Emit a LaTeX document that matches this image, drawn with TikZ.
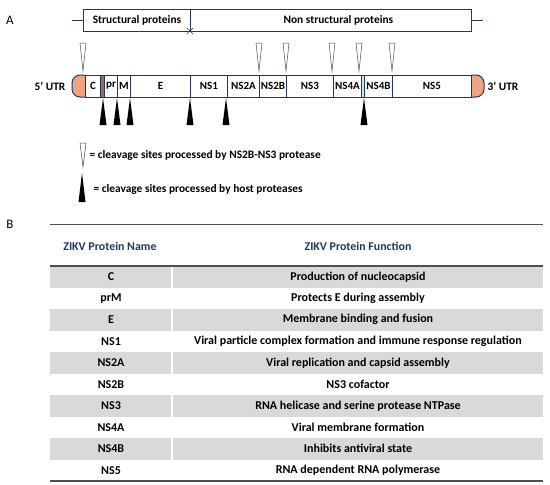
\documentclass[tikz,border=0pt]{standalone}
\usepackage{fontspec}
\setmainfont{Carlito}
\usetikzlibrary{calc}
\definecolor{navy}{HTML}{203864}
\definecolor{utr}{HTML}{F2A285}
\definecolor{prband}{HTML}{C0603E}
\definecolor{kband}{HTML}{CDE8D8}
\definecolor{rowgray}{HTML}{D9D9D9}
\definecolor{rulegray}{HTML}{505050}
\tikzset{
	seg/.style={draw=navy, line width=1pt, anchor=west, inner sep=0pt,
			minimum height=22, font=\bfseries\fontsize{11}{13}\selectfont},
	utrcap/.style={draw=navy, line width=1pt, fill=utr, rounded corners=8},
	opentri/.style={draw=black!70, line width=0.5pt, fill=white},
	hosttri/.style={fill=black},
	lbl/.style={font=\bfseries\fontsize{11.4}{13}\selectfont},
	cell/.style={fill=rowgray, draw=none},
	tabtext/.style={font=\bfseries\fontsize{12}{14}\selectfont},
	headtext/.style={font=\bfseries\fontsize{11.9}{14}\selectfont, text=navy}
}
\begin{document}
\begin{tikzpicture}[x=1pt, y=-1pt]
	\useasboundingbox (0,0) rectangle (550,485);

	% Panel A: polyprotein overview
	\node[font=\fontsize{13}{15}\selectfont] (A) at (10,20) {A};
	\draw[navy, line width=1pt] (72,20) -- (83,20);
	\draw[navy, line width=1pt] (471,20) -- (483,20);
	\node[draw=navy, line width=1pt, anchor=north west, minimum width=107, minimum height=22, inner sep=0pt, lbl] (struct) at (83,9) {Structural proteins};
	\node[draw=navy, line width=1pt, anchor=north west, minimum width=281, minimum height=22, inner sep=0pt, lbl] (nonstruct) at (190,9) {};
	\node[lbl, anchor=west] (nslbl) at (280,20) {Non structural proteins};
	\draw[navy, line width=0.6pt] (187,28) -- (193,34) (187,34) -- (193,28);

	% Genome segments
	\draw[utrcap] (85,75) -| (72,97) -- (85,97);
	\draw[utrcap] (471,75) -| (484,97) -- (471,97);
	\node[seg, minimum width=15] (C) at (85,86) {C};
	\node[seg, minimum width=4, fill=prband] (prb) at (100,86) {};
	\node[seg, minimum width=13] (pr) at (104,86) {pr};
	\node[seg, minimum width=13] (M) at (117,86) {M};
	\node[seg, minimum width=60] (E) at (130,86) {E};
	\node[seg, minimum width=37] (NS1) at (190,86) {NS1};
	\node[seg, minimum width=32] (NS2A) at (227,86) {NS2A};
	\node[seg, minimum width=27] (NS2B) at (259,86) {NS2B};
	\node[seg, minimum width=47] (NS3) at (286,86) {NS3};
	\node[seg, minimum width=28] (NS4A) at (333,86) {NS4A};
	\node[seg, minimum width=3, fill=kband] (k) at (361,86) {};
	\node[seg, minimum width=28] (NS4B) at (364,86) {NS4B};
	\node[seg, minimum width=79] (NS5) at (392,86) {NS5};
	\node[lbl] (utr5) at (50,86) {5’ UTR};
	\node[lbl] (utr3) at (503,86) {3’ UTR};

	% Cleavage sites
	\foreach \x in {83,259,286,332,359,392}
	\draw[opentri] (\x-3,43) -- (\x+3,43) -- (\x,71) -- cycle;
	\foreach \x in {103,117,130,190,226,364}
	\fill[hosttri] (\x,98) -- (\x+3.5,125) -- (\x-3.5,125) -- cycle;

	% Legend
	\draw[opentri] (80,143) -- (86,143) -- (83,167) -- cycle;
	\node[lbl, anchor=west] (leg1) at (86,155) {= cleavage sites processed by NS2B-NS3 protease};
	\fill[hosttri] (82,173) -- (85.5,202) -- (78.5,202) -- cycle;
	\node[lbl, anchor=west] (leg2) at (90,189) {= cleavage sites processed by host proteases};

	% Panel B: protein table
	\node[font=\fontsize{13}{15}\selectfont] (B) at (10,224) {B};
	\draw[rulegray, line width=0.8pt] (50,224) -- (543,224);
	\node[headtext] (hname) at (110,246) {ZIKV Protein Name};
	\node[headtext] (hfunc) at (358,246) {ZIKV Protein Function};
	\foreach \i in {0,2,4,6,8} {
		\fill[cell] (50,266+21.5*\i) rectangle (171,287.5+21.5*\i);
		\fill[cell] (173,266+21.5*\i) rectangle (543,287.5+21.5*\i);
	}
	\foreach \name/\func [count=\i from 0] in {
		C/Production of nucleocapsid,
		prM/Protects E during assembly,
		E/Membrane binding and fusion,
		NS1/Viral particle complex formation and immune response regulation,
		NS2A/Viral replication and capsid assembly,
		NS2B/NS3 cofactor,
		NS3/RNA helicase and serine protease NTPase,
		NS4A/Viral membrane formation,
		NS4B/Inhibits antiviral state,
		NS5/RNA dependent RNA polymerase} {
		\node[tabtext] (name\i) at (111,276.75+21.5*\i) {\name};
		\node[tabtext] (func\i) at (358,276.75+21.5*\i) {\func};
	}
	\draw[rulegray, line width=1.5pt] (50,266) -- (543,266);
	\draw[rulegray, line width=1.5pt] (50,481) -- (543,481);
\end{tikzpicture}
\end{document}
